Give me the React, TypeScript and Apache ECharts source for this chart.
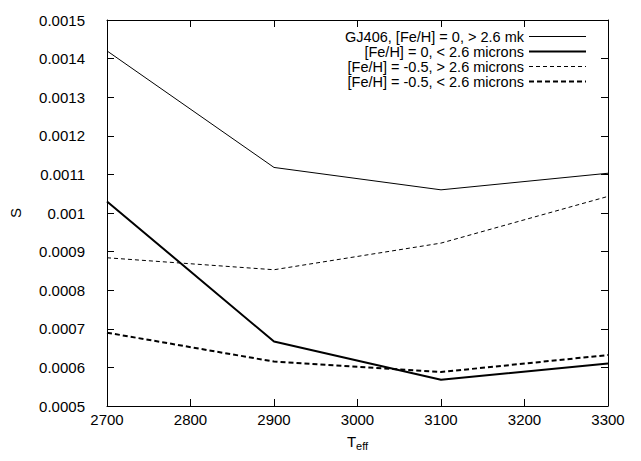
import React, { useEffect, useRef } from "react";
import * as echarts from "echarts";

const temps = [2700, 2900, 3100, 3300];
const gj406 = [0.00142, 0.001118, 0.00106, 0.001103];
const fe0Short = [0.00103, 0.000667, 0.000568, 0.00061];
const feM05Long = [0.000884, 0.000853, 0.000922, 0.001043];
const feM05Short = [0.00069, 0.000615, 0.000588, 0.000632];
const seriesNames = [
  "GJ406, [Fe/H] = 0, > 2.6 mk",
  "[Fe/H] = 0, < 2.6 microns",
  "[Fe/H] = -0.5, > 2.6 microns",
  "[Fe/H] = -0.5, < 2.6 microns",
];
const lineWidths = [1, 2, 1, 2];
const lineTypes: any[] = ["solid", "solid", [4, 3], [5, 3]];

const FONT = "Liberation Sans, Arial, Helvetica, sans-serif";

export default function App() {
  const ref = useRef<HTMLDivElement>(null);
  useEffect(() => {
    if (!ref.current) return;
    const chart = echarts.init(ref.current, undefined, { renderer: "svg" });
    const pair = (ys: number[]) => temps.map((t, i) => [t, ys[i]]);
    const fmtY = (v: number) => parseFloat(v.toFixed(4)).toString();
    const allValues = [gj406, fe0Short, feM05Long, feM05Short];
    const series = seriesNames.map((name, i) => ({
      name,
      type: "line",
      data: pair(allValues[i]),
      symbol: "none",
      showSymbol: false,
      xAxisIndex: 0,
      yAxisIndex: 0,
      itemStyle: { color: "#000" },
      lineStyle: { color: "#000", width: lineWidths[i], type: lineTypes[i] },
    }));
    const tickStyle = { color: "#000", width: 1 };
    chart.setOption({
      animation: false,
      backgroundColor: "#fff",
      textStyle: { fontFamily: FONT },
      grid: { left: 105, right: 33, top: 20, bottom: 55 },
      legend: {
        orient: "vertical",
        align: "right",
        right: 54,
        top: 29,
        padding: 0,
        itemWidth: 57,
        itemHeight: 14,
        itemGap: 0,
        itemStyle: { opacity: 0 },
        textStyle: { fontFamily: FONT, fontSize: 14.5, color: "#000" },
        data: seriesNames.map((name, i) => ({
          name,
          itemStyle: { opacity: 0 },
          lineStyle: { width: lineWidths[i], type: lineTypes[i], color: "#000" },
        })),
      },
      xAxis: [
        {
          type: "value",
          min: 2700,
          max: 3300,
          interval: 100,
          position: "bottom",
          name: "{a|T}{b|eff}",
          nameLocation: "middle",
          nameGap: 26,
          nameTextStyle: {
            rich: {
              a: { fontSize: 15, fontFamily: FONT, color: "#000" },
              b: { fontSize: 11, fontFamily: FONT, color: "#000", padding: [8, 0, 0, 0] },
            },
          },
          axisLine: { show: true, lineStyle: tickStyle },
          axisTick: { show: true, inside: true, length: 7, lineStyle: tickStyle },
          axisLabel: {
            fontSize: 15,
            color: "#000",
            margin: 6,
            fontFamily: FONT,
            formatter: (v: number) => String(v),
          },
          splitLine: { show: false },
        },
        {
          type: "value",
          min: 2700,
          max: 3300,
          interval: 100,
          position: "top",
          axisLine: { show: true, lineStyle: tickStyle },
          axisTick: { show: true, inside: true, length: 7, lineStyle: tickStyle },
          axisLabel: { show: false },
          splitLine: { show: false },
        },
      ],
      yAxis: [
        {
          type: "value",
          min: 0.0005,
          max: 0.0015,
          interval: 0.0001,
          position: "left",
          name: "S",
          nameLocation: "middle",
          nameGap: 84,
          nameRotate: 90,
          nameTextStyle: { fontSize: 15, color: "#000", fontFamily: FONT },
          axisLine: { show: true, lineStyle: tickStyle },
          axisTick: { show: true, inside: true, length: 7, lineStyle: tickStyle },
          axisLabel: { fontSize: 15, color: "#000", margin: 22, fontFamily: FONT, formatter: fmtY },
          splitLine: { show: false },
        },
        {
          type: "value",
          min: 0.0005,
          max: 0.0015,
          interval: 0.0001,
          position: "right",
          axisLine: { show: true, lineStyle: tickStyle },
          axisTick: { show: true, inside: true, length: 7, lineStyle: tickStyle },
          axisLabel: { show: false },
          splitLine: { show: false },
        },
      ],
      series,
    });
    return () => chart.dispose();
  }, []);
  return (
    <div
      ref={ref}
      style={{ position: "fixed", left: 0, top: 0, width: 641, height: 461 }}
    />
  );
}
